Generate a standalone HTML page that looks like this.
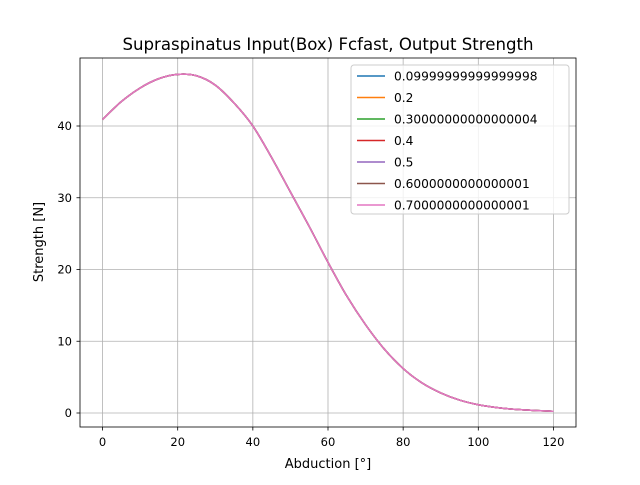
<!DOCTYPE html>
<html><head><meta charset="utf-8"><style>
body{margin:0;background:#fff;}
svg text{font-family:"DejaVu Sans","Liberation Sans",sans-serif;fill:#000;}
</style></head><body>
<svg id="chart" width="640" height="480" xmlns="http://www.w3.org/2000/svg">
<rect width="640" height="480" fill="#fff"/>
<g id="grid"></g>
<g id="series"></g>
<rect x="80" y="58" width="496" height="369" fill="none" stroke="#000" stroke-width="0.8"/>
<g id="ticks"></g>
<text x="328" y="50" font-size="16.6" text-anchor="middle">Supraspinatus Input(Box) Fcfast, Output Strength</text>
<text x="328" y="468" font-size="13" text-anchor="middle">Abduction [°]</text>
<text transform="translate(43,242) rotate(-90)" font-size="13" text-anchor="middle">Strength [N]</text>
<g id="legend"></g>
</svg>
<script>
const xs=[0,5,10,15,20,25,30,35,40,45,50,55,60,65,70,75,80,85,90,95,100,105,110,115,120];
const strength=[40.9,43.4,45.3,46.6,47.2,47.0,45.7,43.2,40.0,35.6,30.8,26.0,21.0,16.3,12.3,8.9,6.2,4.2,2.8,1.8,1.15,0.75,0.5,0.35,0.25];
const seriesLabels=["0.09999999999999998","0.2","0.30000000000000004","0.4","0.5","0.6000000000000001","0.7000000000000001"];
const colors=["#1f77b4","#ff7f0e","#2ca02c","#d62728","#9467bd","#8c564b","#e377c2"];
const xTicks=[0,20,40,60,80,100,120];
const yTicks=[0,10,20,30,40];
const NS="http://www.w3.org/2000/svg";
const X=v=>80+(v+6)/132*496;
const Y=v=>413-v*7.175;
function mk(t,a,p){const e=document.createElementNS(NS,t);for(const k in a)e.setAttribute(k,a[k]);p.appendChild(e);return e;}
const grid=document.getElementById('grid'),ticks=document.getElementById('ticks');
xTicks.forEach(v=>{
 const g=mk('line',{x1:X(v),x2:X(v),y1:58,y2:427,stroke:'#b0b0b0','stroke-width':0.8},grid);
 
 
 mk('line',{x1:X(v),x2:X(v),y1:427,y2:430.5,stroke:'#000','stroke-width':0.8},ticks);
 const t=mk('text',{x:X(v),y:446,'font-size':11.5,'text-anchor':'middle'},ticks);t.textContent=v;
 
 
});
yTicks.forEach(v=>{
 const g=mk('line',{x1:80,x2:576,y1:Y(v),y2:Y(v),stroke:'#b0b0b0','stroke-width':0.8},grid);
 
 
 mk('line',{x1:76.5,x2:80,y1:Y(v),y2:Y(v),stroke:'#000','stroke-width':0.8},ticks);
 const t=mk('text',{x:72,y:Y(v)+4,'font-size':11.5,'text-anchor':'end'},ticks);t.textContent=v;
 
 
});
function smooth(px,py){
 let d='M'+px[0].toFixed(2)+','+py[0].toFixed(2);
 for(let i=0;i<px.length-1;i++){
  const i0=Math.max(0,i-1),i3=Math.min(px.length-1,i+2);
  const c1x=px[i]+(px[i+1]-px[i0])/6,c1y=py[i]+(py[i+1]-py[i0])/6;
  const c2x=px[i+1]-(px[i3]-px[i])/6,c2y=py[i+1]-(py[i3]-py[i])/6;
  d+='C'+c1x.toFixed(2)+','+c1y.toFixed(2)+' '+c2x.toFixed(2)+','+c2y.toFixed(2)+' '+px[i+1].toFixed(2)+','+py[i+1].toFixed(2);
 }
 return d;
}
const ser=document.getElementById('series');
seriesLabels.forEach((s,i)=>{
 const d=smooth(xs.map(X),strength.map(Y));
 const p=mk('path',{d:d,fill:'none',stroke:colors[i],'stroke-width':1.5},ser);
 
 
});
const lg=document.getElementById('legend');
const box=mk('rect',{x:351,y:65,width:218,height:149,rx:3,fill:'#fff','fill-opacity':0.8,stroke:'#ccc'},lg);


seriesLabels.forEach((s,i)=>{
 const y=76+i*21.5;
 mk('line',{x1:357,x2:385,y1:y,y2:y,stroke:colors[i],'stroke-width':1.5},lg);
 const t=mk('text',{x:394,y:y+4.5,'font-size':12.2},lg);t.textContent=s;
 
 
});
</script>
</body></html>
